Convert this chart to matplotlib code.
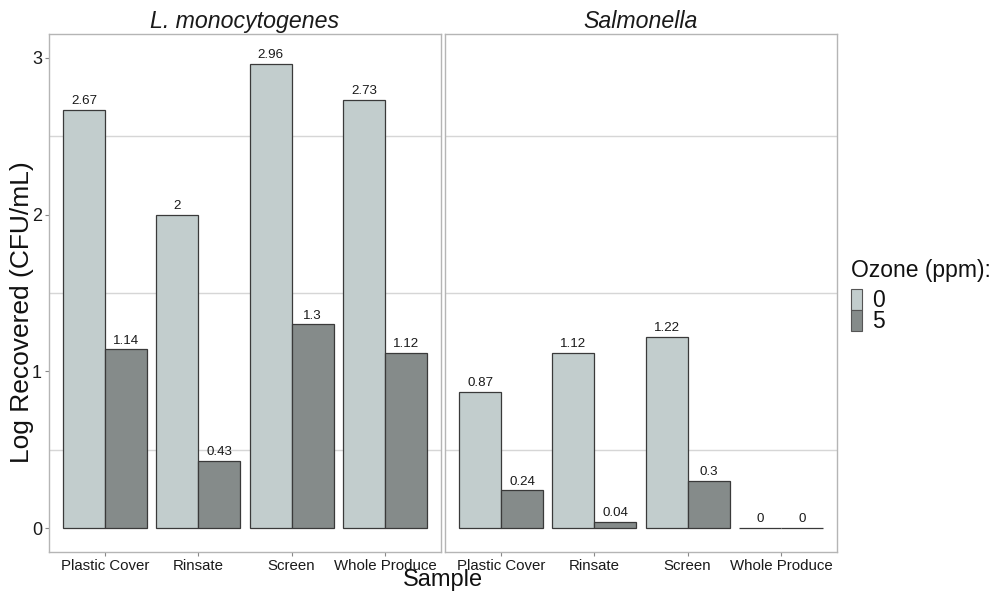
import matplotlib
matplotlib.use("Agg")
import matplotlib.pyplot as plt
from matplotlib.patches import Rectangle
import numpy as np

plt.rcParams['font.family'] = ['Liberation Sans', 'DejaVu Sans']

samples = ["Plastic Cover", "Rinsate", "Screen", "Whole Produce"]
pathogens = ["L. monocytogenes", "Salmonella"]
ozone_levels = ["0", "5"]
listeria_0 = [2.67, 2.00, 2.96, 2.73]
listeria_5 = [1.14, 0.43, 1.30, 1.12]
salmonella_0 = [0.87, 1.12, 1.22, 0.0]
salmonella_5 = [0.24, 0.04, 0.30, 0.0]
value_labels = {
    "L. monocytogenes": [["2.67", "2", "2.96", "2.73"], ["1.14", "0.43", "1.3", "1.12"]],
    "Salmonella": [["0.87", "1.12", "1.22", "0"], ["0.24", "0.04", "0.3", "0"]],
}
data = {"L. monocytogenes": [listeria_0, listeria_5],
        "Salmonella": [salmonella_0, salmonella_5]}

colors = ["#C2CDCD", "#858B8A"]
edge = "#3a3a3a"
border = "#B5B5B5"

fig = plt.figure(figsize=(9.96, 5.91), dpi=100)
W, H = 996, 591
panels = [(49, 34, 392, 518), (445, 34, 392, 518)]

x = np.arange(1, len(samples) + 1)
bw = 0.45
for i, (pname, (px, py, pw, ph)) in enumerate(zip(pathogens, panels)):
    ax = fig.add_axes([px / W, 1 - (py + ph) / H, pw / W, ph / H])
    for gl in [0.5, 1.5, 2.5]:
        ax.axhline(gl, color="#D6D6D6", lw=1.0, zorder=0)
    for k in range(2):
        xs = x + (k - 0.5) * bw
        vals = data[pname][k]
        ax.bar(xs, vals, width=bw, color=colors[k], edgecolor=edge, linewidth=0.9, zorder=2)
        for xx, v, lab in zip(xs, vals, value_labels[pname][k]):
            ax.annotate(lab, (xx, v), xytext=(0, 2), textcoords="offset points",
                        ha="center", va="bottom", fontsize=9.6, color="#1a1a1a")
    ax.set_xlim(0.4, 4.6)
    ax.set_ylim(-0.153, 3.153)
    ax.set_xticks(x)
    ax.set_xticklabels(samples, fontsize=10.8, color="#1a1a1a")
    ax.set_yticks([0, 1, 2, 3])
    if i == 0:
        ax.set_yticklabels(["0", "1", "2", "3"], fontsize=13, color="#1a1a1a")
        ax.tick_params(axis="y", length=3, color="#888888", width=0.8, pad=2)
    else:
        ax.tick_params(axis="y", left=False, labelleft=False)
    ax.tick_params(axis="x", length=3, color="#888888", width=0.8, pad=2)
    for s in ax.spines.values():
        s.set_color(border)
        s.set_linewidth(1.0)
    ax.set_title(pname, fontsize=16.7, style="italic", pad=4, color="#1a1a1a")

fig.text(22 / W, 1 - 312 / H, "Log Recovered (CFU/mL)", rotation=90, ha="center", va="center",
         fontsize=19, color="#111111")
fig.text(443 / W, 1 - 580 / H, "Sample", ha="center", va="center", fontsize=17, color="#111111")

# legend (manual placement)
fig.text(851 / W, 1 - 270 / H, "Ozone (ppm):", ha="left", va="center", fontsize=16.5, color="#111111")
key_x, key_w, key_h, key_top = 851, 11, 21, 289
for j, (lvl, c) in enumerate(zip(ozone_levels, colors)):
    top = key_top + j * key_h
    fig.add_artist(Rectangle((key_x / W, 1 - (top + key_h) / H), key_w / W, key_h / H,
                             transform=fig.transFigure, facecolor=c, edgecolor="#555555",
                             linewidth=0.8))
    fig.text(872 / W, 1 - (top + key_h / 2 + 1) / H, lvl, ha="left", va="center",
             fontsize=16.5, color="#111111")

fig.savefig("out.png", dpi=100)
